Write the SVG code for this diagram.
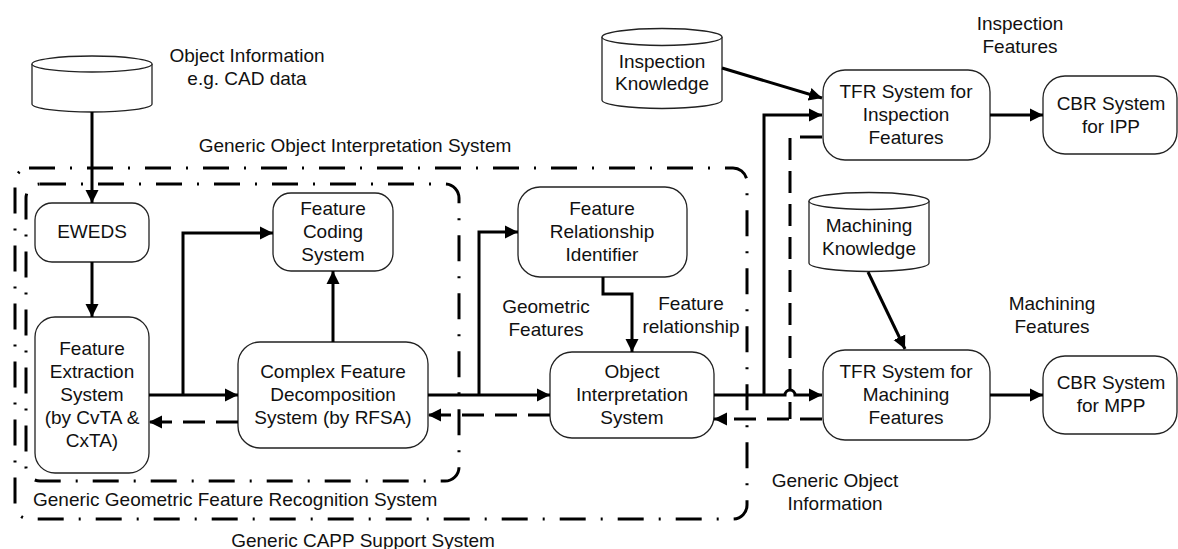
<svg xmlns="http://www.w3.org/2000/svg" width="1178" height="549" viewBox="0 0 1178 549">
<style>
text{font-family:"Liberation Sans",Arial,Helvetica,sans-serif;font-size:19px;fill:#111;text-anchor:middle}
.box{fill:#fff;stroke:#222;stroke-width:1.3}
.cyl{fill:#fff;stroke:#222;stroke-width:1.3}
.bound{fill:none;stroke:#000;stroke-width:3;stroke-dasharray:26 15 2 15}
.c{fill:none;stroke:#000;stroke-width:3}
.d{fill:none;stroke:#000;stroke-width:3;stroke-dasharray:22 11}
.l{text-anchor:start}
</style>
<defs>
<marker id="ah" markerUnits="userSpaceOnUse" markerWidth="14" markerHeight="14" refX="13" refY="7" orient="auto">
<path d="M0,0.5 L13,7 L0,13.5 z" fill="#000"/>
</marker>
</defs>
<rect width="1178" height="549" fill="#fff"/>

<g id="boundaries">
<rect class="bound" x="15" y="168" width="732" height="351" rx="14"/>
<rect class="bound" x="26" y="184" width="433" height="297" rx="14"/>
<text x="355" y="152">Generic Object Interpretation System</text>
<text class="l" x="33" y="506">Generic Geometric Feature Recognition System</text>
<text x="363" y="547">Generic CAPP Support System</text>
</g>

<g id="object-info">
<path class="cyl" d="M32,64 L32,104 A60,8 0 0 0 152,104 L152,64"/>
<ellipse class="cyl" cx="92" cy="64" rx="60" ry="8"/>
<text x="247" y="62">Object Information</text>
<text x="247" y="85">e.g. CAD data</text>
</g>

<g id="eweds">
<rect class="box" x="35" y="203" width="114" height="59" rx="17"/>
<text x="92" y="238">EWEDS</text>
</g>

<g id="fes">
<rect class="box" x="35" y="317" width="114" height="156" rx="20"/>
<text x="92" y="355">Feature</text>
<text x="92" y="378">Extraction</text>
<text x="92" y="401">System</text>
<text x="92" y="424">(by CvTA &amp;</text>
<text x="92" y="447">CxTA)</text>
</g>

<g id="fcs">
<rect class="box" x="273" y="193" width="120" height="78" rx="18"/>
<text x="333" y="215">Feature</text>
<text x="333" y="238">Coding</text>
<text x="333" y="261">System</text>
</g>

<g id="cfds">
<rect class="box" x="238" y="342" width="190" height="106" rx="22"/>
<text x="333" y="378">Complex Feature</text>
<text x="333" y="401">Decomposition</text>
<text x="333" y="424">System (by RFSA)</text>
</g>

<g id="fri">
<rect class="box" x="518" y="187" width="169" height="90" rx="22"/>
<text x="602" y="215">Feature</text>
<text x="602" y="238">Relationship</text>
<text x="602" y="261">Identifier</text>
</g>

<g id="ois">
<rect class="box" x="550" y="352" width="164" height="86" rx="22"/>
<text x="632" y="378">Object</text>
<text x="632" y="401">Interpretation</text>
<text x="632" y="424">System</text>
</g>

<g id="insp-knowledge">
<path class="cyl" d="M602,37 L602,100 A60,8.5 0 0 0 722,100 L722,37"/>
<ellipse class="cyl" cx="662" cy="37" rx="60" ry="8.5"/>
<text x="662" y="68">Inspection</text>
<text x="662" y="90">Knowledge</text>
</g>

<g id="mach-knowledge">
<path class="cyl" d="M809,201 L809,263 A60,8.5 0 0 0 929,263 L929,201"/>
<ellipse class="cyl" cx="869" cy="201" rx="60" ry="8.5"/>
<text x="869" y="232">Machining</text>
<text x="869" y="255">Knowledge</text>
</g>

<g id="tfr-insp">
<rect class="box" x="823" y="70" width="167" height="90" rx="22"/>
<text x="906" y="98">TFR System for</text>
<text x="906" y="121">Inspection</text>
<text x="906" y="144">Features</text>
</g>

<g id="cbr-ipp">
<rect class="box" x="1043" y="76" width="134" height="78" rx="22"/>
<text x="1111" y="110">CBR System</text>
<text x="1111" y="133">for IPP</text>
</g>

<g id="tfr-mach">
<rect class="box" x="823" y="350" width="167" height="90" rx="22"/>
<text x="906" y="378">TFR System for</text>
<text x="906" y="401">Machining</text>
<text x="906" y="424">Features</text>
</g>

<g id="cbr-mpp">
<rect class="box" x="1043" y="356" width="134" height="78" rx="22"/>
<text x="1111" y="389">CBR System</text>
<text x="1111" y="412">for MPP</text>
</g>

<g id="labels">
<text x="546" y="313">Geometric</text>
<text x="546" y="336">Features</text>
<text x="691" y="310">Feature</text>
<text x="691" y="333">relationship</text>
<text x="1020" y="30">Inspection</text>
<text x="1020" y="53">Features</text>
<text x="1052" y="310">Machining</text>
<text x="1052" y="333">Features</text>
<text x="835" y="487">Generic Object</text>
<text x="835" y="510">Information</text>
</g>

<g id="connectors">
<path class="c" d="M92,112 L92,203" marker-end="url(#ah)"/>
<path class="c" d="M92,262 L92,317" marker-end="url(#ah)"/>
<path class="c" d="M149,395 L238,395" marker-end="url(#ah)"/>
<path class="c" d="M183,395 L183,233 L273,233" marker-end="url(#ah)"/>
<path class="d" d="M238,422 L149,422" marker-end="url(#ah)"/>
<path class="c" d="M333,342 L333,271" marker-end="url(#ah)"/>
<path class="c" d="M428,395 L550,395" marker-end="url(#ah)"/>
<path class="c" d="M479,395 L479,232 L518,232" marker-end="url(#ah)"/>
<path class="d" d="M550,415 L428,415" marker-end="url(#ah)"/>
<path class="c" d="M603,277 L603,294 L632,294 L632,352" marker-end="url(#ah)"/>
<path class="c" d="M714,395 L785,395 A5,5 0 0 1 795,395 L822,395" marker-end="url(#ah)"/>
<path class="c" d="M764,395 L764,115 L822,115" marker-end="url(#ah)"/>
<path class="d" d="M822,419 L714,419" marker-end="url(#ah)"/>
<path class="d" d="M822,137 L790,137 L790,419"/>
<path class="c" d="M722,68 L822,98" marker-end="url(#ah)"/>
<path class="c" d="M868,272 L905,349" marker-end="url(#ah)"/>
<path class="c" d="M990,115 L1043,115" marker-end="url(#ah)"/>
<path class="c" d="M990,395 L1043,395" marker-end="url(#ah)"/>
</g>
</svg>
